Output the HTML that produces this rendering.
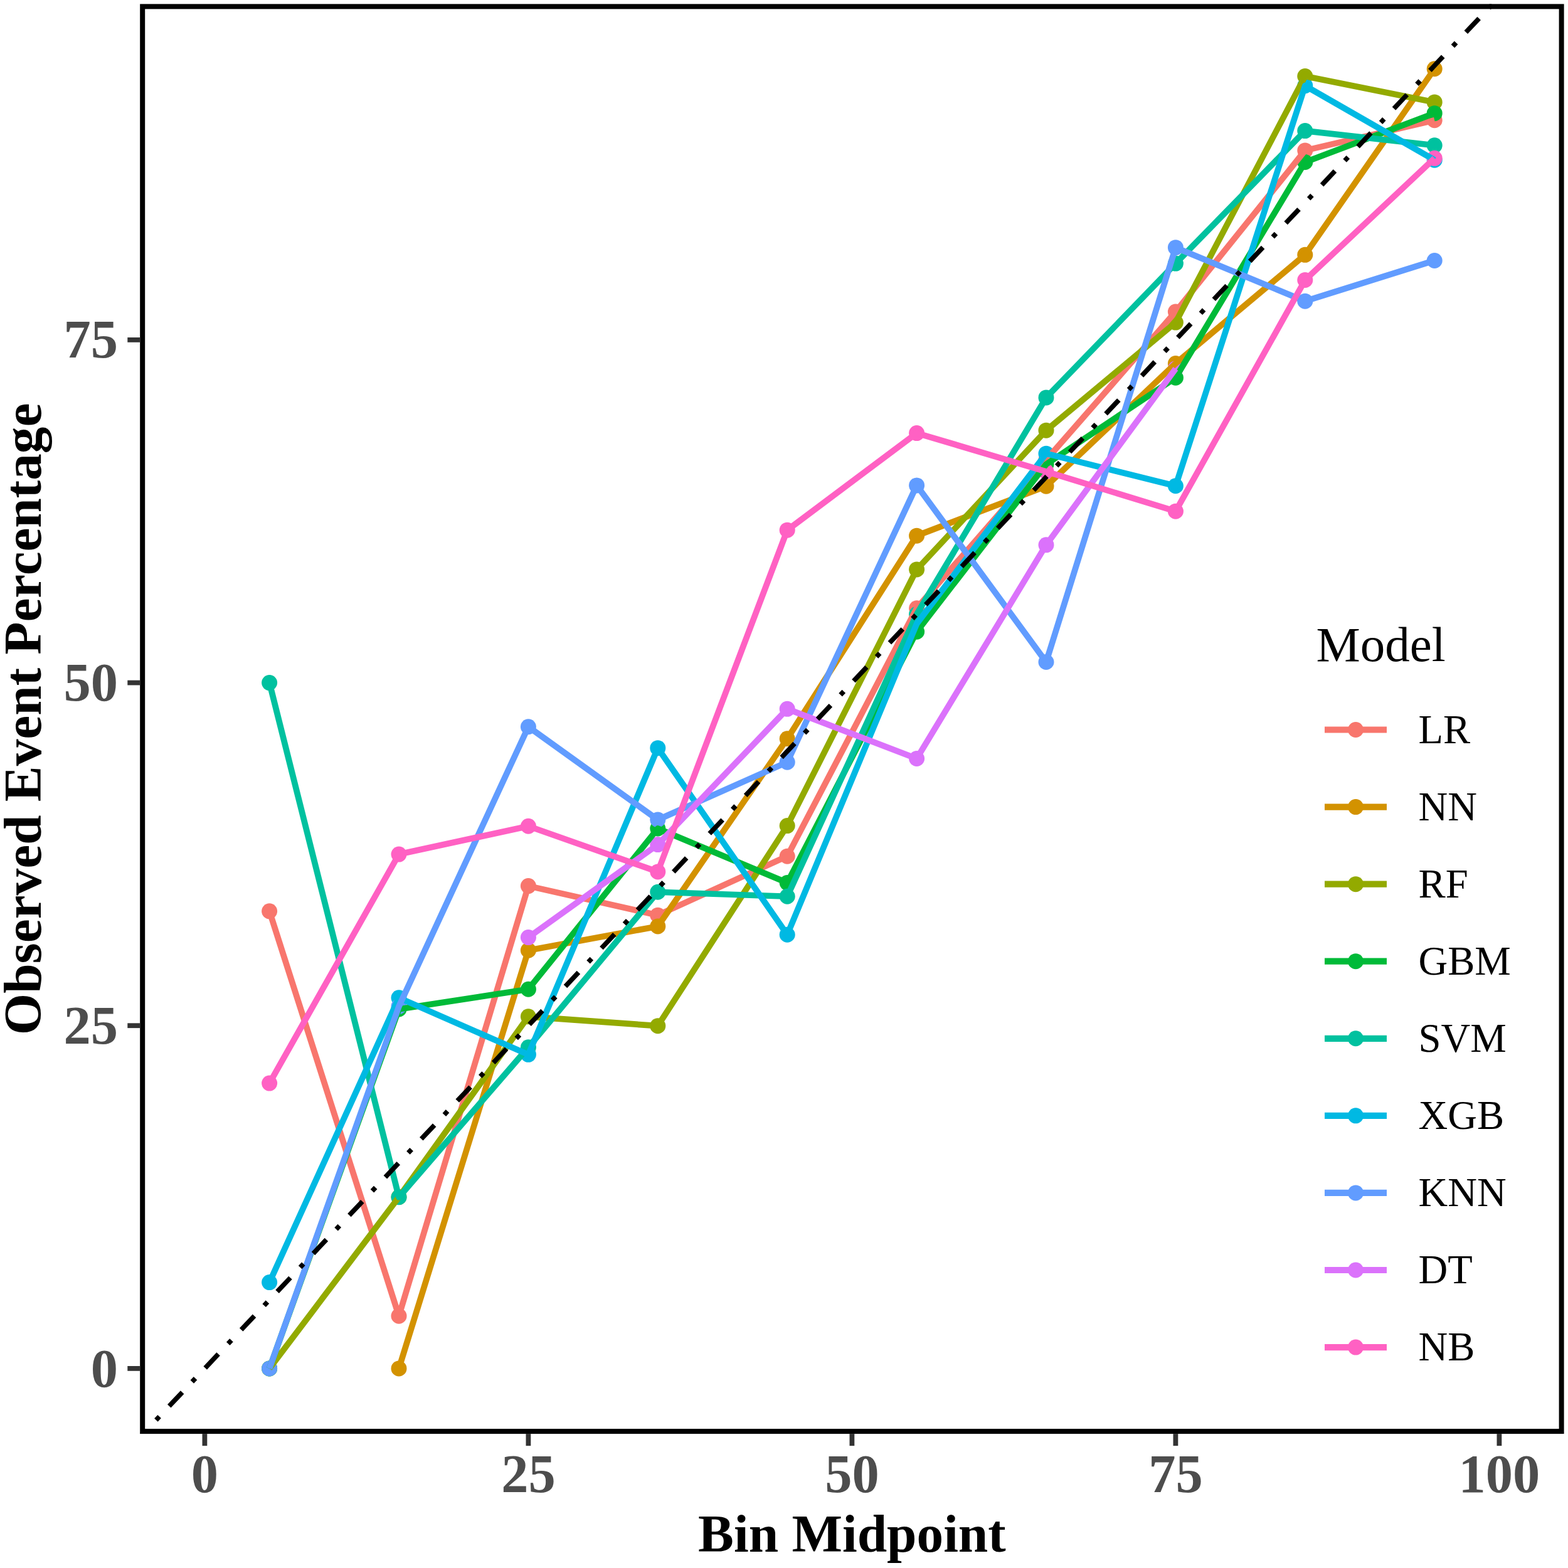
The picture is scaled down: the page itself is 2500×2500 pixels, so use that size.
<!DOCTYPE html>
<html><head><meta charset="utf-8"><title>Calibration plot</title>
<style>
html,body{margin:0;padding:0;background:#fff;}
svg{display:block;}
.ax{font-family:"Liberation Serif","Times New Roman",serif;font-weight:bold;fill:#4D4D4D;}
.tt{font-family:"Liberation Serif","Times New Roman",serif;font-weight:bold;fill:#000;}
.lg{font-family:"Liberation Serif","Times New Roman",serif;fill:#000;}
</style></head>
<body>
<svg width="2500" height="2500" viewBox="0 0 2500 2500">
<rect x="0" y="0" width="2500" height="2500" fill="#FFFFFF"/>
<defs><clipPath id="pc"><rect x="223.2" y="6.4" width="2270.4" height="2279.7"/></clipPath></defs>
<g clip-path="url(#pc)">
<g id="pts">
<circle cx="429.6" cy="1452.85" r="12.5" fill="#F8766D"/>
<circle cx="636" cy="2098.15" r="12.5" fill="#F8766D"/>
<circle cx="842.4" cy="1412.62" r="12.5" fill="#F8766D"/>
<circle cx="1048.8" cy="1459.2" r="12.5" fill="#F8766D"/>
<circle cx="1255.2" cy="1365.17" r="12.5" fill="#F8766D"/>
<circle cx="1461.6" cy="969.81" r="12.5" fill="#F8766D"/>
<circle cx="1668" cy="733.21" r="12.5" fill="#F8766D"/>
<circle cx="1874.4" cy="497.05" r="12.5" fill="#F8766D"/>
<circle cx="2080.8" cy="239.89" r="12.5" fill="#F8766D"/>
<circle cx="2287.2" cy="191.78" r="12.5" fill="#F8766D"/>
<circle cx="636" cy="2181.9" r="12.5" fill="#D39200"/>
<circle cx="842.4" cy="1515.18" r="12.5" fill="#D39200"/>
<circle cx="1048.8" cy="1476.91" r="12.5" fill="#D39200"/>
<circle cx="1255.2" cy="1177.77" r="12.5" fill="#D39200"/>
<circle cx="1461.6" cy="854.14" r="12.5" fill="#D39200"/>
<circle cx="1668" cy="775.2" r="12.5" fill="#D39200"/>
<circle cx="1874.4" cy="579.49" r="12.5" fill="#D39200"/>
<circle cx="2080.8" cy="406.3" r="12.5" fill="#D39200"/>
<circle cx="2287.2" cy="109.78" r="12.5" fill="#D39200"/>
<circle cx="429.6" cy="2181.9" r="12.5" fill="#93AA00"/>
<circle cx="636" cy="1908.56" r="12.5" fill="#93AA00"/>
<circle cx="842.4" cy="1620.79" r="12.5" fill="#93AA00"/>
<circle cx="1048.8" cy="1635.66" r="12.5" fill="#93AA00"/>
<circle cx="1255.2" cy="1316.62" r="12.5" fill="#93AA00"/>
<circle cx="1461.6" cy="907.93" r="12.5" fill="#93AA00"/>
<circle cx="1668" cy="686.2" r="12.5" fill="#93AA00"/>
<circle cx="1874.4" cy="514.1" r="12.5" fill="#93AA00"/>
<circle cx="2080.8" cy="121.59" r="12.5" fill="#93AA00"/>
<circle cx="2287.2" cy="162.92" r="12.5" fill="#93AA00"/>
<circle cx="429.6" cy="2181.9" r="12.5" fill="#00BA38"/>
<circle cx="636" cy="1608.98" r="12.5" fill="#00BA38"/>
<circle cx="842.4" cy="1577.28" r="12.5" fill="#00BA38"/>
<circle cx="1048.8" cy="1321" r="12.5" fill="#00BA38"/>
<circle cx="1255.2" cy="1407.59" r="12.5" fill="#00BA38"/>
<circle cx="1461.6" cy="1007.2" r="12.5" fill="#00BA38"/>
<circle cx="1668" cy="740.21" r="12.5" fill="#00BA38"/>
<circle cx="1874.4" cy="602.23" r="12.5" fill="#00BA38"/>
<circle cx="2080.8" cy="258.48" r="12.5" fill="#00BA38"/>
<circle cx="2287.2" cy="180.63" r="12.5" fill="#00BA38"/>
<circle cx="429.6" cy="1088.55" r="12.5" fill="#00C19F"/>
<circle cx="636" cy="1908.78" r="12.5" fill="#00C19F"/>
<circle cx="842.4" cy="1669.77" r="12.5" fill="#00C19F"/>
<circle cx="1048.8" cy="1422.24" r="12.5" fill="#00C19F"/>
<circle cx="1255.2" cy="1429.24" r="12.5" fill="#00C19F"/>
<circle cx="1461.6" cy="979.22" r="12.5" fill="#00C19F"/>
<circle cx="1668" cy="633.94" r="12.5" fill="#00C19F"/>
<circle cx="1874.4" cy="420.08" r="12.5" fill="#00C19F"/>
<circle cx="2080.8" cy="208.62" r="12.5" fill="#00C19F"/>
<circle cx="2287.2" cy="231.8" r="12.5" fill="#00C19F"/>
<circle cx="429.6" cy="2044.58" r="12.5" fill="#00B9E3"/>
<circle cx="636" cy="1590.83" r="12.5" fill="#00B9E3"/>
<circle cx="842.4" cy="1681.36" r="12.5" fill="#00B9E3"/>
<circle cx="1048.8" cy="1192.64" r="12.5" fill="#00B9E3"/>
<circle cx="1255.2" cy="1490.25" r="12.5" fill="#00B9E3"/>
<circle cx="1461.6" cy="994.52" r="12.5" fill="#00B9E3"/>
<circle cx="1668" cy="723.15" r="12.5" fill="#00B9E3"/>
<circle cx="1874.4" cy="774.76" r="12.5" fill="#00B9E3"/>
<circle cx="2080.8" cy="136.68" r="12.5" fill="#00B9E3"/>
<circle cx="2287.2" cy="255.2" r="12.5" fill="#00B9E3"/>
<circle cx="429.6" cy="2181.9" r="12.5" fill="#619CFF"/>
<circle cx="636" cy="1604.61" r="12.5" fill="#619CFF"/>
<circle cx="842.4" cy="1158.74" r="12.5" fill="#619CFF"/>
<circle cx="1048.8" cy="1307" r="12.5" fill="#619CFF"/>
<circle cx="1255.2" cy="1215.16" r="12.5" fill="#619CFF"/>
<circle cx="1461.6" cy="773.88" r="12.5" fill="#619CFF"/>
<circle cx="1668" cy="1055.53" r="12.5" fill="#619CFF"/>
<circle cx="1874.4" cy="394.71" r="12.5" fill="#619CFF"/>
<circle cx="2080.8" cy="480.21" r="12.5" fill="#619CFF"/>
<circle cx="2287.2" cy="415.48" r="12.5" fill="#619CFF"/>
<circle cx="842.4" cy="1494.62" r="12.5" fill="#DB72FB"/>
<circle cx="1048.8" cy="1346.58" r="12.5" fill="#DB72FB"/>
<circle cx="1255.2" cy="1130.32" r="12.5" fill="#DB72FB"/>
<circle cx="1461.6" cy="1209.47" r="12.5" fill="#DB72FB"/>
<circle cx="1668" cy="868.79" r="12.5" fill="#DB72FB"/>
<circle cx="1874.4" cy="587.8" r="12.5" fill="#DB72FB"/>
<circle cx="429.6" cy="1727.07" r="12.5" fill="#FF61C3"/>
<circle cx="636" cy="1362.11" r="12.5" fill="#FF61C3"/>
<circle cx="842.4" cy="1317.28" r="12.5" fill="#FF61C3"/>
<circle cx="1048.8" cy="1389.88" r="12.5" fill="#FF61C3"/>
<circle cx="1255.2" cy="845.17" r="12.5" fill="#FF61C3"/>
<circle cx="1461.6" cy="690.57" r="12.5" fill="#FF61C3"/>
<circle cx="1668" cy="751.8" r="12.5" fill="#FF61C3"/>
<circle cx="1874.4" cy="815.21" r="12.5" fill="#FF61C3"/>
<circle cx="2080.8" cy="446.53" r="12.5" fill="#FF61C3"/>
<circle cx="2287.2" cy="252.36" r="12.5" fill="#FF61C3"/>
</g>
<g id="lines" fill="none" stroke-width="9.7" stroke-linejoin="round" stroke-linecap="butt">
<polyline stroke="#F8766D" points="429.6,1452.85 636,2098.15 842.4,1412.62 1048.8,1459.2 1255.2,1365.17 1461.6,969.81 1668,733.21 1874.4,497.05 2080.8,239.89 2287.2,191.78"/>
<polyline stroke="#D39200" points="636,2181.9 842.4,1515.18 1048.8,1476.91 1255.2,1177.77 1461.6,854.14 1668,775.2 1874.4,579.49 2080.8,406.3 2287.2,109.78"/>
<polyline stroke="#93AA00" points="429.6,2181.9 636,1908.56 842.4,1620.79 1048.8,1635.66 1255.2,1316.62 1461.6,907.93 1668,686.2 1874.4,514.1 2080.8,121.59 2287.2,162.92"/>
<polyline stroke="#00BA38" points="429.6,2181.9 636,1608.98 842.4,1577.28 1048.8,1321 1255.2,1407.59 1461.6,1007.2 1668,740.21 1874.4,602.23 2080.8,258.48 2287.2,180.63"/>
<polyline stroke="#00C19F" points="429.6,1088.55 636,1908.78 842.4,1669.77 1048.8,1422.24 1255.2,1429.24 1461.6,979.22 1668,633.94 1874.4,420.08 2080.8,208.62 2287.2,231.8"/>
<polyline stroke="#00B9E3" points="429.6,2044.58 636,1590.83 842.4,1681.36 1048.8,1192.64 1255.2,1490.25 1461.6,994.52 1668,723.15 1874.4,774.76 2080.8,136.68 2287.2,255.2"/>
<polyline stroke="#619CFF" points="429.6,2181.9 636,1604.61 842.4,1158.74 1048.8,1307 1255.2,1215.16 1461.6,773.88 1668,1055.53 1874.4,394.71 2080.8,480.21 2287.2,415.48"/>
<polyline stroke="#DB72FB" points="842.4,1494.62 1048.8,1346.58 1255.2,1130.32 1461.6,1209.47 1668,868.79 1874.4,587.8"/>
<polyline stroke="#FF61C3" points="429.6,1727.07 636,1362.11 842.4,1317.28 1048.8,1389.88 1255.2,845.17 1461.6,690.57 1668,751.8 1874.4,815.21 2080.8,446.53 2287.2,252.36"/>
</g>
<line x1="223.2" y1="2291.24" x2="2493.6" y2="-114.14" stroke="#000" stroke-width="7.61" stroke-dasharray="7.61 22.82 30.42 22.82" stroke-dashoffset="46.26"/>
</g>
<rect x="227.2" y="10.4" width="2262.4" height="2271.7" fill="none" stroke="#000" stroke-width="8"/>
<g stroke="#333333" stroke-width="7.8">
<line x1="203.3" y1="2181.9" x2="223.2" y2="2181.9"/>
<line x1="203.3" y1="1635.22" x2="223.2" y2="1635.22"/>
<line x1="203.3" y1="1088.55" x2="223.2" y2="1088.55"/>
<line x1="203.3" y1="541.88" x2="223.2" y2="541.88"/>
<line x1="326.4" y1="2286.1" x2="326.4" y2="2305.2"/>
<line x1="842.4" y1="2286.1" x2="842.4" y2="2305.2"/>
<line x1="1358.4" y1="2286.1" x2="1358.4" y2="2305.2"/>
<line x1="1874.4" y1="2286.1" x2="1874.4" y2="2305.2"/>
<line x1="2390.4" y1="2286.1" x2="2390.4" y2="2305.2"/>
</g>
<text class="ax" x="188" y="2210.5" font-size="86.5" text-anchor="end">0</text>
<text class="ax" x="188" y="1663.82" font-size="86.5" text-anchor="end">25</text>
<text class="ax" x="188" y="1117.15" font-size="86.5" text-anchor="end">50</text>
<text class="ax" x="188" y="570.48" font-size="86.5" text-anchor="end">75</text>
<text class="ax" x="326.4" y="2378.5" font-size="86.5" text-anchor="middle">0</text>
<text class="ax" x="842.4" y="2378.5" font-size="86.5" text-anchor="middle">25</text>
<text class="ax" x="1358.4" y="2378.5" font-size="86.5" text-anchor="middle">50</text>
<text class="ax" x="1874.4" y="2378.5" font-size="86.5" text-anchor="middle">75</text>
<text class="ax" x="2390.4" y="2378.5" font-size="86.5" text-anchor="middle">100</text>
<text class="tt" x="1358.4" y="2473.5" font-size="85.3" text-anchor="middle">Bin Midpoint</text>
<text class="tt" transform="translate(64.9,1146.4) rotate(-90)" x="0" y="0" font-size="85.3" text-anchor="middle">Observed Event Percentage</text>
<text class="lg" x="2098.4" y="1054.1" font-size="79">Model</text>
<circle cx="2161.5" cy="1163.5" r="12.5" fill="#F8766D"/>
<line x1="2112" y1="1163.5" x2="2211" y2="1163.5" stroke="#F8766D" stroke-width="10.2"/>
<text class="lg" x="2261.5" y="1184.8" font-size="64.7">LR</text>
<circle cx="2161.5" cy="1286.57" r="12.5" fill="#D39200"/>
<line x1="2112" y1="1286.57" x2="2211" y2="1286.57" stroke="#D39200" stroke-width="10.2"/>
<text class="lg" x="2261.5" y="1307.87" font-size="64.7">NN</text>
<circle cx="2161.5" cy="1409.64" r="12.5" fill="#93AA00"/>
<line x1="2112" y1="1409.64" x2="2211" y2="1409.64" stroke="#93AA00" stroke-width="10.2"/>
<text class="lg" x="2261.5" y="1430.94" font-size="64.7">RF</text>
<circle cx="2161.5" cy="1532.71" r="12.5" fill="#00BA38"/>
<line x1="2112" y1="1532.71" x2="2211" y2="1532.71" stroke="#00BA38" stroke-width="10.2"/>
<text class="lg" x="2261.5" y="1554.01" font-size="64.7">GBM</text>
<circle cx="2161.5" cy="1655.78" r="12.5" fill="#00C19F"/>
<line x1="2112" y1="1655.78" x2="2211" y2="1655.78" stroke="#00C19F" stroke-width="10.2"/>
<text class="lg" x="2261.5" y="1677.08" font-size="64.7">SVM</text>
<circle cx="2161.5" cy="1778.85" r="12.5" fill="#00B9E3"/>
<line x1="2112" y1="1778.85" x2="2211" y2="1778.85" stroke="#00B9E3" stroke-width="10.2"/>
<text class="lg" x="2261.5" y="1800.15" font-size="64.7">XGB</text>
<circle cx="2161.5" cy="1901.92" r="12.5" fill="#619CFF"/>
<line x1="2112" y1="1901.92" x2="2211" y2="1901.92" stroke="#619CFF" stroke-width="10.2"/>
<text class="lg" x="2261.5" y="1923.22" font-size="64.7">KNN</text>
<circle cx="2161.5" cy="2024.99" r="12.5" fill="#DB72FB"/>
<line x1="2112" y1="2024.99" x2="2211" y2="2024.99" stroke="#DB72FB" stroke-width="10.2"/>
<text class="lg" x="2261.5" y="2046.29" font-size="64.7">DT</text>
<circle cx="2161.5" cy="2148.06" r="12.5" fill="#FF61C3"/>
<line x1="2112" y1="2148.06" x2="2211" y2="2148.06" stroke="#FF61C3" stroke-width="10.2"/>
<text class="lg" x="2261.5" y="2169.36" font-size="64.7">NB</text>
</svg>
</body></html>
